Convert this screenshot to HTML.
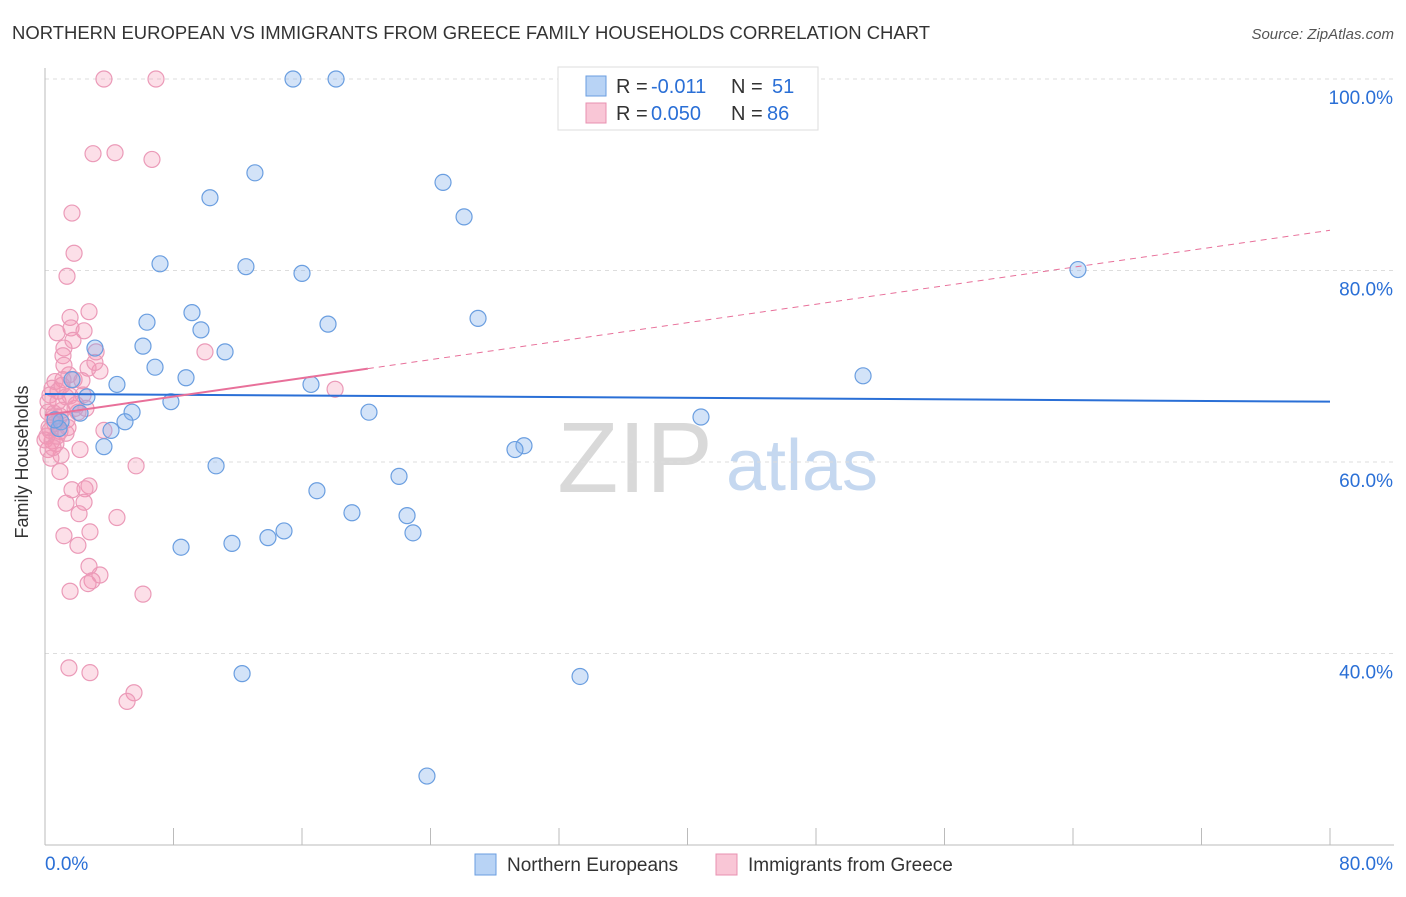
<!DOCTYPE html>
<html><head><meta charset="utf-8"><style>
body{margin:0;background:#fff;font-family:"Liberation Sans",sans-serif}
svg text{font-family:"Liberation Sans",sans-serif}
</style></head><body>
<svg id="c" width="1406" height="892" xmlns="http://www.w3.org/2000/svg">
<text x="12" y="39" font-size="18" fill="#333" textLength="918" lengthAdjust="spacingAndGlyphs">NORTHERN EUROPEAN VS IMMIGRANTS FROM GREECE FAMILY HOUSEHOLDS CORRELATION CHART</text>
<text x="1394" y="39" font-size="15" fill="#555" text-anchor="end" font-style="italic">Source: ZipAtlas.com</text>
<g><text x="635" y="492" font-size="100" fill="#d9d9d9" text-anchor="middle" font-family="Liberation Serif">ZIP</text><text x="802" y="490" font-size="72" fill="#c5d8f0" text-anchor="middle">atlas</text></g>
<g id="grid"></g><g id="axes"></g><g id="marks"></g>
<text x="22" y="456" font-size="18" fill="#333" text-anchor="middle" transform="rotate(-90 28 456)">Family Households</text>
<g>
<rect x="558" y="67" width="260" height="63" fill="#fff" stroke="#ddd"/>
<rect x="586" y="76" width="20" height="20" fill="#b8d3f5" stroke="#6a9ee0"/>
<rect x="586" y="103" width="20" height="20" fill="#f9c6d6" stroke="#e890b0"/>
<g font-size="20">
<text x="616" y="93" fill="#333">R =</text><text x="651" y="93" fill="#2a6fd6">-0.011</text>
<text x="731" y="93" fill="#333">N =</text><text x="772" y="93" fill="#2a6fd6">51</text></g>
<g font-size="20">
<text x="616" y="120" fill="#333">R =</text><text x="651" y="120" fill="#2a6fd6">0.050</text>
<text x="731" y="120" fill="#333">N =</text><text x="767" y="120" fill="#2a6fd6">86</text></g>
</g>
<g>
<rect x="475" y="854" width="21" height="21" fill="#b8d3f5" stroke="#6a9ee0"/>
<text x="507" y="871" font-size="19" fill="#333">Northern Europeans</text>
<rect x="716" y="854" width="21" height="21" fill="#f9c6d6" stroke="#e890b0"/>
<text x="748" y="871" font-size="19" fill="#333">Immigrants from Greece</text>
</g>
</svg>
<script>
const blueX=[15.44,18.12,13.07,10.27,24.78,26.09,7.16,12.51,16.0,64.31,9.15,6.35,17.62,26.96,9.71,3.11,6.10,11.21,6.85,8.78,50.93,4.48,16.56,7.84,2.61,2.18,5.42,20.17,4.98,4.11,1.0,40.84,3.67,29.82,29.26,10.65,22.04,16.93,19.11,22.54,22.91,8.47,11.64,13.88,14.88,12.27,33.31,23.78,0.87,0.62,1.68];
const blueY=[100,100,90.2,87.6,89.2,85.6,80.7,80.4,79.7,80.1,75.6,74.6,74.4,75.0,73.8,71.9,72.1,71.5,69.9,68.8,69.0,68.1,68.1,66.3,66.8,65.1,65.2,65.2,64.2,63.3,64.2,64.7,61.6,61.7,61.3,59.6,58.5,57.0,54.7,54.4,52.6,51.1,51.5,52.1,52.8,37.9,37.6,27.2,63.5,64.4,68.6];
const pinkX=[3.67,6.91,2.99,4.36,6.66,1.68,1.81,1.37,2.74,1.56,1.62,0.75,2.43,3.18,1.18,1.12,9.96,3.42,2.68,1.49,1.81,1.12,0.62,0.44,0.81,0.31,1.31,2.37,1.87,1.06,0.56,0.19,2.05,1.37,0.62,0.31,0.93,0.12,0.44,1.31,3.67,0.68,0.19,1.0,0.37,5.67,0.93,2.74,2.49,1.68,2.43,1.31,2.12,4.48,2.80,1.18,2.05,2.74,3.42,2.93,2.68,1.56,6.10,1.49,2.80,5.54,5.11,18.06,0,0.19,0.5,0.81,1.06,1.56,1.93,2.30,0.25,0.75,1.18,1.74,3.11,2.55,0.5,0.93,1.43,2.18];
const pinkY=[100,100,92.2,92.3,91.6,86.0,81.8,79.4,75.7,75.1,74.0,73.5,73.7,71.5,71.9,71.1,71.5,69.5,69.8,69.1,68.6,68.6,68.4,67.7,67.4,67.0,66.8,67.0,65.6,65.4,65.1,65.2,65.2,64.4,64.0,63.3,63.2,62.7,62.2,63.0,63.3,61.9,61.3,60.7,60.4,59.6,59.0,57.5,57.2,57.1,55.8,55.7,54.6,54.2,52.7,52.3,51.3,49.1,48.2,47.6,47.3,46.5,46.2,38.5,38.0,35.9,35.0,67.6,62.3,66.3,64.6,66.3,68.0,66.9,66.0,68.5,63.6,62.7,70.1,72.7,70.4,65.6,61.5,64.8,63.6,61.3];
const yTicks=[100,80,60,40];
const xTickLabels=["0.0%","80.0%"];
const blueTrend=[67.1,66.3];
const pinkTrend=[64.9,84.2];
const pinkSolidEnd=20.1;
const NS="http://www.w3.org/2000/svg";
const X=v=>45+v/80*1285, Y=v=>79+(100-v)*9.575;
function mk(t,a,p){const e=document.createElementNS(NS,t);for(const k in a)e.setAttribute(k,a[k]);p.appendChild(e);return e;}
const grid=document.getElementById('grid'),axes=document.getElementById('axes'),marks=document.getElementById('marks');
yTicks.forEach(t=>{
 const l=mk('line',{x1:45,x2:1394,y1:Y(t),y2:Y(t),stroke:'#ddd','stroke-dasharray':'4,4'},grid);
 
 
 const tx=mk('text',{x:1393,y:Y(t)+25,'font-size':19,fill:'#2a6fd6','text-anchor':'end'},grid);tx.textContent=t.toFixed(1)+'%';
 
 
});
const ax=mk('line',{x1:45,x2:1394,y1:845,y2:845,stroke:'#bbb'},axes);


const ay=mk('line',{x1:45,x2:45,y1:68,y2:845,stroke:'#bbb'},axes);


for(let i=0;i<=10;i++){const t=mk('line',{x1:X(i*8),x2:X(i*8),y1:828,y2:845,stroke:'#bbb'},axes);
 
 }
const xl0=mk('text',{x:45,y:870,'font-size':19,fill:'#2a6fd6'},axes);xl0.textContent=xTickLabels[0];


const xl1=mk('text',{x:1393,y:870,'font-size':19,fill:'#2a6fd6','text-anchor':'end'},axes);xl1.textContent=xTickLabels[1];


pinkX.forEach((v,i)=>{const c=mk('circle',{cx:X(v),cy:Y(pinkY[i]),r:8,fill:'rgba(244,150,180,0.3)',stroke:'#eb9ab8','stroke-width':1.2},marks);
 
 });
blueX.forEach((v,i)=>{const c=mk('circle',{cx:X(v),cy:Y(blueY[i]),r:8,fill:'rgba(130,175,235,0.35)',stroke:'#6a9ee0','stroke-width':1.2},marks);
 
 });
const bl=mk('line',{x1:X(0),x2:X(80),y1:Y(blueTrend[0]),y2:Y(blueTrend[1]),stroke:'#2a6fd6','stroke-width':2},marks);


const pAt=v=>pinkTrend[0]+(pinkTrend[1]-pinkTrend[0])*v/80;
const pd=mk('line',{x1:X(pinkSolidEnd),x2:X(80),y1:Y(pAt(pinkSolidEnd)),y2:Y(pinkTrend[1]),stroke:'#e8709a','stroke-width':1,'stroke-dasharray':'6,5'},marks);


const ps=mk('line',{x1:X(0),x2:X(pinkSolidEnd),y1:Y(pinkTrend[0]),y2:Y(pAt(pinkSolidEnd)),stroke:'#e8709a','stroke-width':2},marks);


</script>
</body></html>
